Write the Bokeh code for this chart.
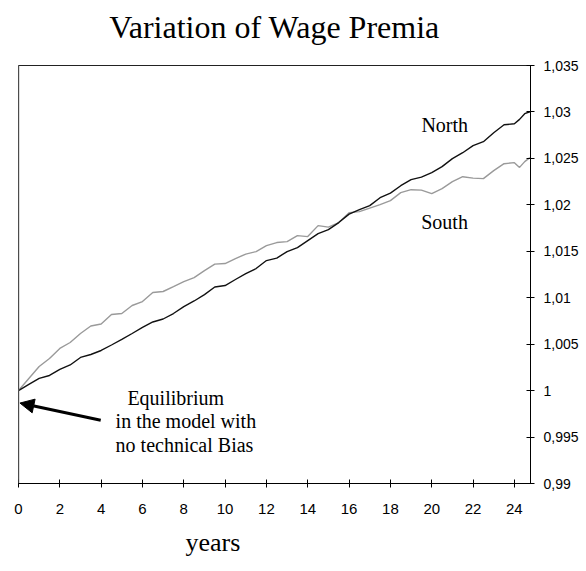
from bokeh.plotting import figure
from bokeh.models import (Range1d, FixedTicker, CustomJSTickFormatter, Label,
                          Arrow, NormalHead, Span, Title, LinearAxis)
from bokeh.embed import file_html
from bokeh.resources import INLINE

# ---- data ----
years = [0, 0.5, 1, 1.5, 2, 2.5, 3, 3.5, 4, 4.5, 5, 5.5, 6, 6.5, 7, 7.5, 8, 8.5,
         9, 9.5, 10, 10.5, 11, 11.5, 12, 12.5, 13, 13.5, 14, 14.5, 15, 15.5,
         16, 16.5, 17, 17.5, 18, 18.5, 19, 19.5, 20, 20.5, 21, 21.5, 22, 22.5,
         23, 23.5, 24, 24.25, 24.5, 24.75]

north = [1.0000, 1.00067, 1.00131, 1.00163, 1.00228, 1.00276, 1.00357, 1.00389,
         1.00432, 1.00491, 1.00551, 1.00615, 1.00680, 1.00739, 1.00771, 1.00830,
         1.00905, 1.00965, 1.01034, 1.01115, 1.01131, 1.01196, 1.01260, 1.01314,
         1.01400, 1.01427, 1.01497, 1.01540, 1.01615, 1.01690, 1.01733, 1.01809,
         1.01900, 1.01948, 1.01991, 1.02077, 1.02126, 1.02206, 1.02271, 1.02298,
         1.02346, 1.02411, 1.02497, 1.02561, 1.02637, 1.02680, 1.02776, 1.02862,
         1.02873, 1.02920, 1.02981, 1.03002]

south = [1.0000, 1.00131, 1.00260, 1.00346, 1.00454, 1.00518, 1.00615, 1.00696,
         1.00717, 1.00819, 1.00830, 1.00916, 1.00959, 1.01056, 1.01067, 1.01120,
         1.01174, 1.01217, 1.01292, 1.01362, 1.01368, 1.01422, 1.01470, 1.01497,
         1.01561, 1.01594, 1.01604, 1.01669, 1.01658, 1.01776, 1.01760, 1.01809,
         1.01916, 1.01927, 1.01965, 1.02002, 1.02045, 1.02131, 1.02163, 1.02158,
         1.02120, 1.02174, 1.02249, 1.02303, 1.02287, 1.02282, 1.02368, 1.02443,
         1.02454, 1.02403, 1.02465, 1.02508]

x_ticks = [0, 2, 4, 6, 8, 10, 12, 14, 16, 18, 20, 22, 24]
y_ticks = [0.99, 0.995, 1.0, 1.005, 1.01, 1.015, 1.02, 1.025, 1.03, 1.035]
y_tick_labels = ["0,99", "0,995", "1", "1,005", "1,01", "1,015", "1,02",
                 "1,025", "1,03", "1,035"]

title_text = "Variation of Wage Premia"
x_label_text = "years"
note_lines = ["Equilibrium", "in the model with", "no technical Bias"]

SERIF = "Liberation Serif"
SANS = "Liberation Sans"

p = figure(width=584, height=570, output_backend="svg", toolbar_location=None,
           x_range=Range1d(0, 24.78), y_range=Range1d(0.99, 1.035),
           y_axis_location="right", min_border_left=18, min_border_right=54,
           min_border_top=65, min_border_bottom=87)
p.xgrid.visible = False
p.ygrid.visible = False
p.outline_line_color = "#222222"
p.outline_line_width = 1
p.background_fill_color = "white"
p.border_fill_color = "white"

# bottom axis (grab it before any other x axis is added)
xa = p.below[0]
xa.ticker = FixedTicker(ticks=x_ticks)
xa.major_tick_in = 4
xa.major_tick_out = 4
xa.minor_tick_line_color = None
xa.axis_line_color = "black"
xa.major_tick_line_color = "black"
xa.major_label_text_font = SANS
xa.major_label_text_font_size = "15px"
xa.major_label_text_color = "black"
xa.major_label_standoff = 16

ya = p.right[0]
ya.ticker = FixedTicker(ticks=y_ticks)
ya.formatter = CustomJSTickFormatter(
    args=dict(tvals=y_ticks, tlabels=y_tick_labels),
    code="""
let best = 0, bd = 1e9;
for (let i = 0; i < tvals.length; i++) {
  const d = Math.abs(tvals[i] - tick);
  if (d < bd) { bd = d; best = i; }
}
return tlabels[best];
""")
ya.major_tick_in = 4
ya.major_tick_out = 4
ya.minor_tick_line_color = None
ya.axis_line_color = "black"
ya.major_tick_line_color = "black"
ya.major_label_text_font = SANS
ya.major_label_text_font_size = "14px"
ya.major_label_text_color = "black"
ya.major_label_standoff = 9

# title drawn as the label of a bare axis above the frame
top = LinearAxis(ticker=FixedTicker(ticks=[]), axis_line_color=None,
                 major_tick_line_color=None, minor_tick_line_color=None,
                 major_tick_out=0, minor_tick_out=0, major_tick_in=0,
                 major_label_standoff=0, major_label_text_font_size="0px",
                 axis_label=title_text,
                 axis_label_standoff=21, axis_label_text_font=SERIF,
                 axis_label_text_font_size="32px",
                 axis_label_text_font_style="normal",
                 axis_label_text_color="black")
p.add_layout(top, "above")

# x-axis caption as a title below the axis
p.add_layout(Title(text=x_label_text, align="left", offset=167,
                   standoff=19, text_font=SERIF, text_font_size="26px",
                   text_font_style="normal", text_color="black"), "below")

# left border slightly grey
p.add_layout(Span(location=0, dimension="height", line_color="#777777",
                  line_width=1.5))

# lines
p.line(years, south, line_color="#9a9a9a", line_width=1.4)
p.line(years, north, line_color="#111111", line_width=1.4)

# text annotations
p.add_layout(Label(x=20.63, y=1.02855, text="North", text_align="center",
                   text_baseline="middle", text_font=SERIF,
                   text_font_size="20px", text_color="black"))
p.add_layout(Label(x=20.62, y=1.01812, text="South", text_align="center",
                   text_baseline="middle", text_font=SERIF,
                   text_font_size="20px", text_color="black"))

note_pos = [(5.27, 0.99922), (4.70, 0.99669), (4.70, 0.99416)]
for (nx, ny), t in zip(note_pos, note_lines):
    p.add_layout(Label(x=nx, y=ny, text=t, text_align="left",
                       text_baseline="middle", text_font=SERIF,
                       text_font_size="20px", text_color="black"))

p.add_layout(Arrow(end=NormalHead(size=14, fill_color="black",
                                  line_color="black"),
                   x_start=3.98, y_start=0.99680, x_end=0.07, y_end=0.99866,
                   line_width=3, line_color="black"))

open("out.html", "w").write(file_html(p, INLINE))
